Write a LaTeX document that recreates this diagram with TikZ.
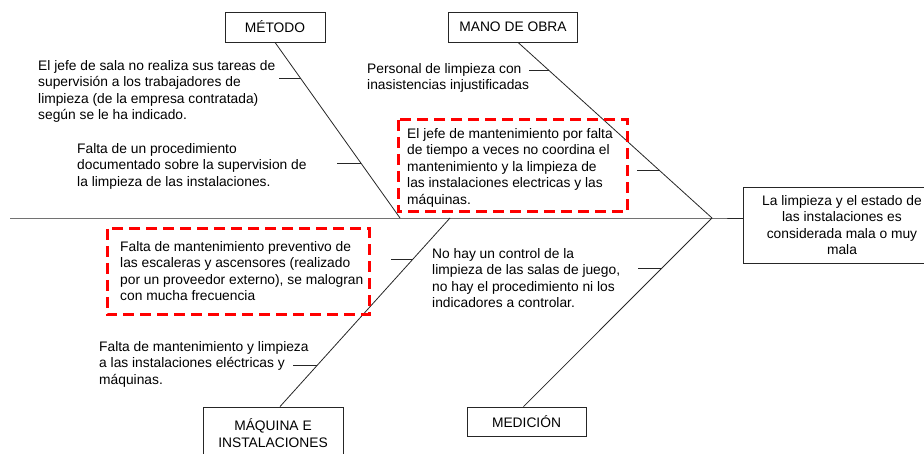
\documentclass[tikz,border=0pt]{standalone}
\usepackage{fontspec}
\setmainfont{Liberation Sans}
\usetikzlibrary{calc}
\begin{document}
\begin{tikzpicture}[x=1pt,y=-1pt,
  ln/.style={line width=0.8pt, draw=black!85},
  cat/.style={draw=black!85, line width=0.8pt, inner sep=0pt, font=\fontsize{13.8}{16.5}\selectfont, align=center},
  txt/.style={font=\fontsize{13.8}{16.5}\selectfont, align=left, anchor=north west, inner sep=0pt},
  dbox/.style={draw=red, line width=3pt, dash pattern=on 11pt off 6pt}]
\useasboundingbox (0,0) rectangle (924,454);

% category boxes
\node[cat, minimum width=100pt, minimum height=30pt] (metodo) at (275,27) {MÉTODO};
\node[cat, minimum width=129pt, minimum height=30pt] (mano) at (513,27) {MANO DE OBRA};
\node[cat, minimum width=140pt, minimum height=52pt] (maq) at (273,433) {MÁQUINA E\\INSTALACIONES};
\node[cat, minimum width=119pt, minimum height=29pt] (med) at (526.5,421.5) {MEDICIÓN};
\node[cat, minimum width=198pt, minimum height=76pt] (efecto) at (842,225) {La limpieza y el estado de\\las instalaciones es\\considerada mala o muy\\mala};

% spine
\coordinate (tail) at (10,218);
\coordinate (head) at (712,218);
\coordinate (mtEnd) at (400,218);
\coordinate (mqEnd) at (450,218);
\draw[ln] (tail) -- (head) -- (head -| efecto.west);

% bones
\coordinate (mtTop) at (metodo.south);
\coordinate (moTop) at ([xshift=5pt]mano.south);
\coordinate (mqBot) at ([xshift=7pt]maq.north);
\coordinate (mdBot) at ([xshift=-3pt]med.north);
\draw[ln] (mtTop) -- (mtEnd);
\draw[ln] (moTop) -- (head);
\draw[ln] (mqBot) -- (mqEnd);
\draw[ln] (mdBot) -- (head);

% ticks
\coordinate (t1) at ($(mtTop)!0.2045!(mtEnd)$);
\coordinate (t2) at ($(mtTop)!0.6875!(mtEnd)$);
\coordinate (t3) at ($(moTop)!0.159!(head)$);
\coordinate (t4) at ($(moTop)!0.727!(head)$);
\coordinate (t5) at ($(mqBot)!0.783!(mqEnd)$);
\coordinate (t6) at ($(mqBot)!0.217!(mqEnd)$);
\coordinate (t7) at ($(mdBot)!0.735!(head)$);
\draw[ln] (t1) -- ++(-22,0);
\draw[ln] (t2) -- ++(-24,0);
\draw[ln] (t3) -- ++(-20,0);
\draw[ln] (t4) -- ++(-22,0);
\draw[ln] (t5) -- ++(-22,0);
\draw[ln] (t6) -- ++(-24,0);
\draw[ln] (t7) -- ++(-24,0);

% texts
\node[txt] (c1) at (38,60) {El jefe de sala no realiza sus tareas de\\supervisión a los trabajadores de\\limpieza (de la empresa contratada)\\según se le ha indicado.};
\node[txt] (c2) at (77,143) {Falta de un procedimiento\\documentado sobre la supervision de\\la limpieza de las instalaciones.};
\node[txt] (c3) at (367,63) {Personal de limpieza con\\inasistencias injustificadas};
\node[txt] (c4) at (407,128) {El jefe de mantenimiento por falta\\de tiempo a veces no coordina el\\mantenimiento y la limpieza de\\las instalaciones electricas y las\\máquinas.};
\node[txt] (c5) at (120,241) {Falta de mantenimiento preventivo de\\las escaleras y ascensores (realizado\\por un proveedor externo), se malogran\\con mucha frecuencia};
\node[txt] (c6) at (99,341) {Falta de mantenimiento y limpieza\\a las instalaciones eléctricas y\\máquinas.};
\node[txt] (c7) at (432,248) {No hay un control de la\\limpieza de las salas de juego,\\no hay el procedimiento ni los\\indicadores a controlar.};

% highlighted boxes
\draw[dbox] (398,120) rectangle (627,212);
\draw[dbox] (107,229) rectangle (369,315);
\end{tikzpicture}
\end{document}
